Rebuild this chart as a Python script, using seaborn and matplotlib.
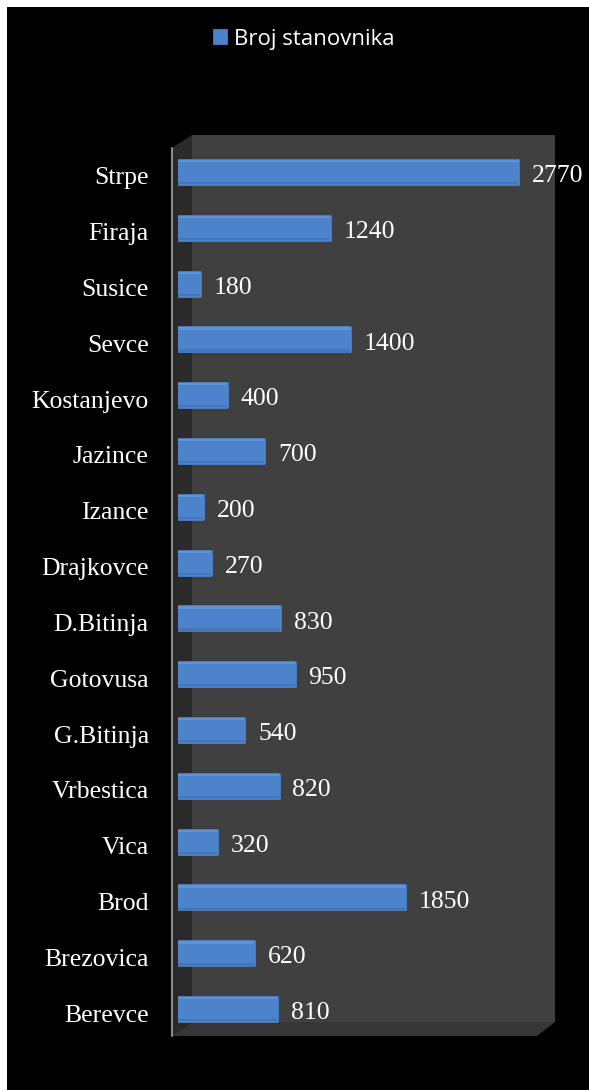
import matplotlib
matplotlib.use("Agg")
import matplotlib.pyplot as plt
import matplotlib.transforms as mtransforms
from matplotlib.patches import Rectangle, Polygon
from matplotlib.lines import Line2D
import seaborn as sns

# data
villages = ["Strpe", "Firaja", "Susice", "Sevce", "Kostanjevo", "Jazince", "Izance",
            "Drajkovce", "D.Bitinja", "Gotovusa", "G.Bitinja", "Vrbestica", "Vica",
            "Brod", "Brezovica", "Berevce"]
population = [2770, 1240, 180, 1400, 400, 700, 200, 270, 830, 950, 540, 820, 320,
              1850, 620, 810]
series_name = "Broj stanovnika"

W, H = 589, 1090
sns.set_theme(style="white")
plt.rcParams["font.family"] = ["Liberation Serif", "DejaVu Serif"]

fig = plt.figure(figsize=(W / 100, H / 100), dpi=100)
fig.patch.set_facecolor("white")


def fx(px):
    return px / W


def fy(py):
    return 1 - py / H


# black canvas with a thin white margin top/left
fig.add_artist(Rectangle((fx(7), 0), 1 - fx(7), fy(7), transform=fig.transFigure,
                         facecolor="black", edgecolor="none", zorder=0))

# fake 3d box: back wall, side wall, floor
walls = [
    ([(192, 135), (555, 135), (555, 1022), (192, 1022)], "#404040"),
    ([(172, 148), (192, 135), (192, 1022), (172, 1036)], "#2a2a2a"),
    ([(172, 1036), (192, 1022), (555, 1022), (537, 1036)], "#363636"),
]
for pts, col in walls:
    fig.add_artist(Polygon([(fx(a), fy(b)) for a, b in pts], closed=True,
                           transform=fig.transFigure, facecolor=col,
                           edgecolor="none", zorder=1))
fig.add_artist(Line2D([fx(172), fx(172)], [fy(148), fy(1036)], transform=fig.transFigure,
                      color="#8c8c8c", lw=1.5, zorder=2))

# bars
ax = fig.add_axes([fx(178), fy(1037), fx(546) - fx(178), (1037 - 144) / H])
ax.set_facecolor("none")
ax.set_zorder(3)

sns.barplot(x=population, y=villages, orient="h", color="#4d83ca", saturation=1,
            width=0.43, edgecolor="#4d83ca", linewidth=2, label=series_name, ax=ax)
for p in ax.patches:
    p.set_joinstyle("round")
if ax.get_legend() is not None:
    ax.get_legend().remove()
handles, labels = ax.get_legend_handles_labels()

# soft light rim on top, darker rim at bottom
pos = list(range(len(villages)))
ax.barh([y - 0.195 for y in pos], population, height=0.04, color="#6f9edb",
        linewidth=0, alpha=0.6)
ax.barh([y + 0.2 for y in pos], population, height=0.04, color="#3d6cac",
        linewidth=0, alpha=0.6)

ax.set_xlim(0, 3000)
ax.set_ylim(len(villages) - 0.5, -0.5)
texts = ax.bar_label(ax.containers[0], labels=[str(v) for v in population], padding=10,
                     color="white", fontsize=18.5)

ax.set_xticks([])
ax.set_xlabel("")
ax.set_ylabel("")
ax.tick_params(axis="y", length=0, pad=21, labelcolor="white", labelsize=18.5)
for s in ax.spines.values():
    s.set_visible(False)

# text sits a little below the bar centre in the original
shift = mtransforms.ScaledTranslation(0, -4 / 100, fig.dpi_scale_trans)
for t in ax.get_yticklabels():
    t.set_transform(t.get_transform() + shift)
for t in texts:
    t.xyann = (t.xyann[0], -3)

leg = fig.legend(handles, labels, loc="center", bbox_to_anchor=(fx(304), fy(39)),
                 frameon=False, prop={"family": "Open Sans", "size": 16},
                 labelcolor="white", handlelength=0.55, handleheight=0.55,
                 handletextpad=0.35)

fig.savefig("out.png", dpi=100, facecolor=fig.get_facecolor())
